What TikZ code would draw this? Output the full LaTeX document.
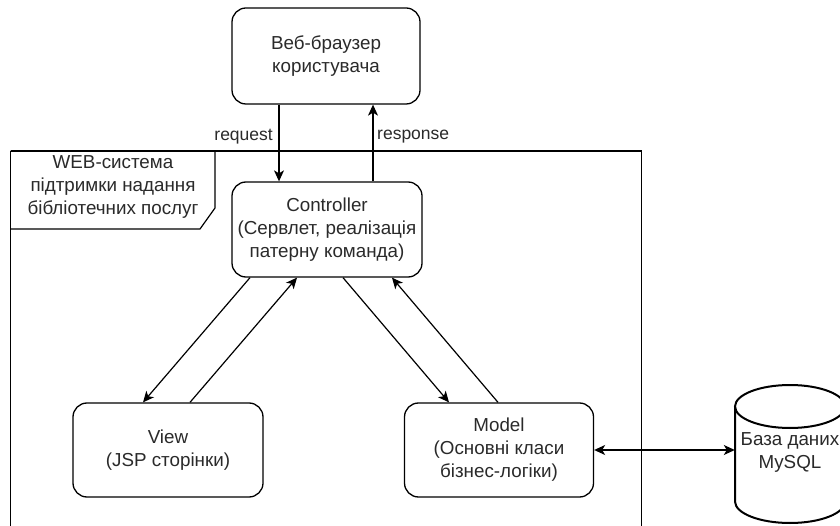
\documentclass[tikz,border=0pt]{standalone}
\usepackage{fontspec}
\setmainfont{Liberation Sans}
\usetikzlibrary{arrows.meta}
\definecolor{txt}{HTML}{2a2a2a}
\tikzset{
  box/.style={draw=black, line width=1.3pt, rounded corners=14pt, fill=white,
    align=center, text=txt, font=\fontsize{18.8}{23}\selectfont, inner sep=0pt},
  lbl/.style={text=txt, font=\fontsize{17.5}{21}\selectfont, inner sep=0pt, align=center},
  conn/.style={draw=black, line width=1.2pt},
  arr/.style={conn, -{Stealth[length=11pt, width=10pt, inset=3pt]}},
  arrboth/.style={conn, {Stealth[length=11pt, width=10pt, inset=3pt]}-{Stealth[length=11pt, width=10pt, inset=3pt]}}
}
\begin{document}
\begin{tikzpicture}[x=1pt, y=-1pt]
\clip (0,0) rectangle (840,526);
\fill[white] (0,0) rectangle (840,526);

% system frame
\draw[line width=1.2pt] (10.5,151) -- (641.5,151) -- (641.5,540);
\draw[line width=1.2pt] (10.5,151) -- (10.5,540);
\draw[line width=1.2pt] (10.5,151) -- (215,151) -- (215,208) -- (200,229) -- (10.5,229);
\node[lbl, font=\fontsize{18.8}{23}\selectfont] (frametitle) at (113,187) {WEB-система\\підтримки надання\\бібліотечних послуг};

% nodes
\node[box, minimum width=188pt, minimum height=96pt] (browser) at (326,56) {Веб-браузер\\користувача};
\node[box, minimum width=190pt, minimum height=95pt] (controller) at (327,229.5) {Controller\\(Сервлет, реалізація\\патерну команда)};
\node[box, minimum width=190pt, minimum height=94pt] (view) at (168,450) {View\\(JSP сторінки)};
\node[box, minimum width=189pt, minimum height=94pt] (model) at (499,450) {Model\\(Основні класи\\бізнес-логіки)};

% database cylinder (shape drawn directly, text node on top)
\draw[line width=2pt, fill=white] (735,406.5) -- (735,501.5) arc[start angle=180, end angle=360, x radius=55, y radius=-21.5] -- (845,406.5);
\draw[line width=2pt] (790,406.5) ellipse[x radius=55, y radius=21.5];
\node[draw=none, minimum width=110pt, minimum height=138pt, inner sep=0pt, align=center,
  text=txt, font=\fontsize{18.8}{23}\selectfont] (db) at (790,452) {База даних\\MySQL};

% connectors
\draw[arr] ([xshift=-47pt]browser.south) -- ([xshift=-47pt]browser.south |- controller.north);
\draw[arr] ([xshift=46pt]controller.north) -- ([xshift=46pt]controller.north |- browser.south);
\node[lbl, anchor=east] (reqlbl) at (273,137) {request};
\node[lbl, anchor=west] (reslbl) at (377,137) {response};

\draw[arr] ([xshift=-77pt]controller.south) -- ([xshift=-25pt]view.north);
\draw[arr] ([xshift=22pt]view.north) -- ([xshift=-30pt]controller.south);
\draw[arr] ([xshift=16pt]controller.south) -- ([xshift=-50pt]model.north);
\draw[arr] ([xshift=-1pt]model.north) -- ([xshift=65pt]controller.south);

\draw[arrboth] (model.east) -- (model.east -| db.west);
\end{tikzpicture}
\end{document}
